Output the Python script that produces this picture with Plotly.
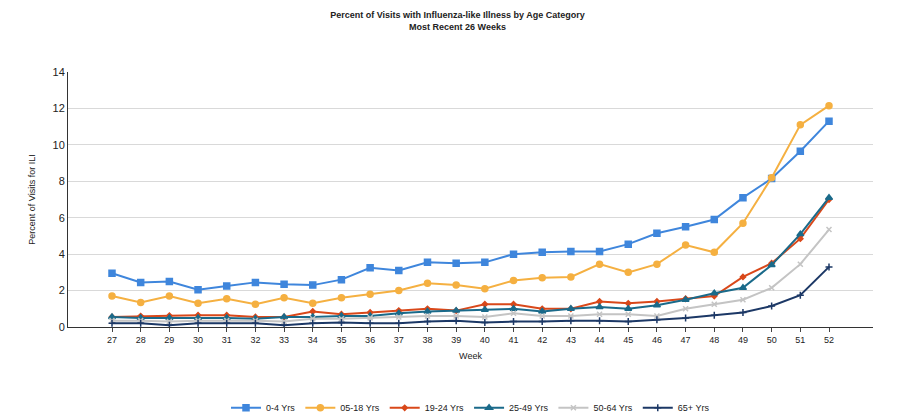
import plotly.graph_objects as go

weeks = [str(w) for w in range(27, 53)]
age_0_4 = [2.95, 2.45, 2.5, 2.05, 2.25, 2.45, 2.35, 2.3, 2.6, 3.25, 3.1, 3.55, 3.5,
           3.55, 4.0, 4.1, 4.15, 4.15, 4.55, 5.15, 5.5, 5.9, 7.1, 8.15, 9.65, 11.3]
age_5_18 = [1.7, 1.35, 1.7, 1.3, 1.55, 1.25, 1.6, 1.3, 1.6, 1.8, 2.0, 2.4, 2.3,
            2.1, 2.55, 2.7, 2.75, 3.45, 3.0, 3.45, 4.5, 4.1, 5.7, 8.2, 11.1, 12.15]
age_19_24 = [0.55, 0.6, 0.62, 0.65, 0.65, 0.55, 0.55, 0.85, 0.7, 0.8, 0.9, 1.0, 0.9,
             1.25, 1.25, 1.0, 1.0, 1.4, 1.3, 1.4, 1.55, 1.7, 2.75, 3.5, 4.85, 7.0]
age_25_49 = [0.55, 0.5, 0.5, 0.5, 0.5, 0.45, 0.55, 0.55, 0.6, 0.6, 0.75, 0.85, 0.9,
             0.95, 1.0, 0.85, 1.0, 1.1, 1.0, 1.2, 1.5, 1.85, 2.15, 3.4, 5.1, 7.1]
age_50_64 = [0.35, 0.35, 0.3, 0.35, 0.35, 0.35, 0.3, 0.45, 0.45, 0.5, 0.55, 0.6, 0.6,
             0.55, 0.75, 0.6, 0.6, 0.7, 0.7, 0.6, 1.0, 1.25, 1.5, 2.15, 3.45, 5.35]
age_65 = [0.2, 0.2, 0.1, 0.2, 0.2, 0.2, 0.1, 0.2, 0.25, 0.2, 0.2, 0.3, 0.35,
          0.25, 0.3, 0.3, 0.35, 0.35, 0.3, 0.4, 0.5, 0.65, 0.8, 1.15, 1.75, 3.3]

series = [
    ("0-4 Yrs", age_0_4, "#3f86dc", "square", 6),
    ("05-18 Yrs", age_5_18, "#f5b041", "circle", 6),
    ("19-24 Yrs", age_19_24, "#d9481a", "diamond", 4),
    ("25-49 Yrs", age_25_49, "#1a6a8a", "triangle-up", 6),
    ("50-64 Yrs", age_50_64, "#c4c4c4", "x-thin-open", 5),
    ("65+ Yrs", age_65, "#1c3866", "cross-thin-open", 5),
]

fig = go.Figure()
for name, vals, color, sym, size in series:
    fig.add_trace(go.Scatter(
        x=weeks, y=vals, name=name, mode="lines+markers",
        line=dict(color=color, width=2),
        marker=dict(symbol=sym, size=size, color=color, line=dict(color=color, width=1.5)),
    ))

fig.update_layout(
    width=899, height=418,
    paper_bgcolor="white", plot_bgcolor="white",
    font=dict(family="Arial, Liberation Sans", size=10, color="#222"),
    title=dict(text="<b>Percent of Visits with Influenza-like Illness by Age Category<br>Most Recent 26 Weeks</b>",
               x=0.5, y=0.975, xanchor="center", yanchor="top", font=dict(size=9)),
    margin=dict(l=60, r=34, t=64, b=99, autoexpand=False),
    legend=dict(orientation="h", x=0.5, xanchor="center", y=-0.26, yanchor="top",
                font=dict(size=9)),
    showlegend=True,
)
fig.update_xaxes(title=dict(text="Week", font=dict(size=9), standoff=8), showgrid=False,
                 showline=True, linecolor="#333", ticks="outside", ticklen=4,
                 tickfont=dict(size=9), automargin=False)
fig.update_yaxes(title=dict(text="Percent of Visits for ILI", font=dict(size=9)), range=[0, 14],
                 dtick=2, gridcolor="#d9d9d9", showline=True, linecolor="#333",
                 tickfont=dict(size=11), zeroline=False, automargin=False)

fig.write_html("out.html")
